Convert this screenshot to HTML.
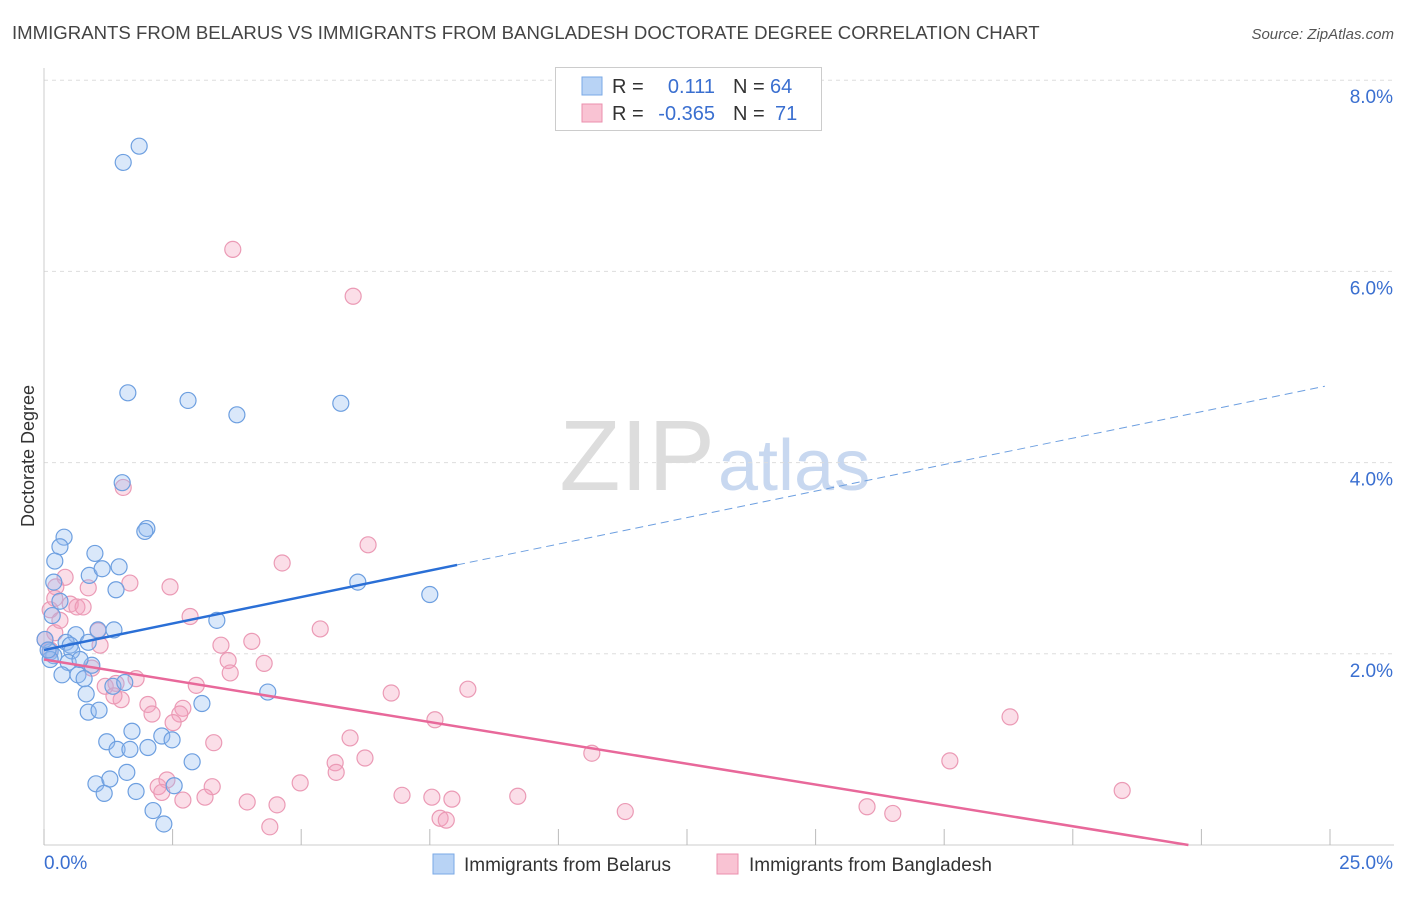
<!DOCTYPE html>
<html><head><meta charset="utf-8"><style>
body{margin:0;background:#fff;font-family:"Liberation Sans",sans-serif;}
svg text{font-family:"Liberation Sans",sans-serif;}
</style></head><body>
<svg id="c" width="1406" height="892">
<text x="12" y="39" font-size="18.6" fill="#444">IMMIGRANTS FROM BELARUS VS IMMIGRANTS FROM BANGLADESH DOCTORATE DEGREE CORRELATION CHART</text>
<text x="1394" y="39" font-size="15" fill="#555" font-style="italic" text-anchor="end">Source: ZipAtlas.com</text>
<text x="34" y="456" font-size="18" fill="#333" text-anchor="middle" transform="rotate(-90 34 456)">Doctorate Degree</text>
<text x="715" y="490" font-size="100" fill="#ddd" font-family="Liberation Serif" text-anchor="end">ZIP</text>
<text x="718" y="490" font-size="72" fill="#c8d8f0">atlas</text>
<g id="grid"></g><g id="pts"></g><g id="lines"></g>
<g>
<rect x="555.5" y="67.5" width="266" height="63" fill="#fff" stroke="#ccc"/>
<rect x="582" y="77" width="20" height="18" fill="#b8d3f5" stroke="#7aa8e6"/>
<rect x="582" y="104" width="20" height="18" fill="#f9c3d3" stroke="#eb8fae"/>
<text x="612" y="93" font-size="20" fill="#333">R =</text><text x="715" y="93" font-size="20" fill="#3a6fd0" text-anchor="end">0.111</text>
<text x="733" y="93" font-size="20" fill="#333">N =</text><text x="770" y="93" font-size="20" fill="#3a6fd0">64</text>
<text x="612" y="120" font-size="20" fill="#333">R =</text><text x="715" y="120" font-size="20" fill="#3a6fd0" text-anchor="end">-0.365</text>
<text x="733" y="120" font-size="20" fill="#333">N =</text><text x="775" y="120" font-size="20" fill="#3a6fd0">71</text>
</g>
<g>
<rect x="433" y="854" width="21" height="20" fill="#b8d3f5" stroke="#7aa8e6"/>
<text x="464" y="871" font-size="19" fill="#333">Immigrants from Belarus</text>
<rect x="717" y="854" width="21" height="20" fill="#f9c3d3" stroke="#eb8fae"/>
<text x="749" y="871" font-size="19" fill="#333">Immigrants from Bangladesh</text>
</g>
</svg>
<script>
const yTicks=[2,4,6,8];
const yTickLabels=["2.0%","4.0%","6.0%","8.0%"];
const xTickLabels=["0.0%","25.0%"];
const blueX=[1.85,1.54,1.63,2.8,3.75,5.77,1.52,2.0,1.96,0.39,0.31,0.99,0.21,0.19,0.88,1.13,1.46,1.4,6.1,7.5,0.16,3.36,0.62,1.36,1.05,0.43,0.51,0.86,0.12,0.54,0.19,0.47,0.93,0.35,0.66,0.78,1.34,1.57,0.82,4.35,3.07,0.86,1.07,1.22,1.71,2.29,2.49,1.42,1.67,2.02,2.88,1.61,1.01,1.28,1.17,1.79,2.53,2.12,2.33,0.12,0.02,0.31,0.08,0.7];
const blueY=[7.31,7.14,4.73,4.65,4.5,4.62,3.79,3.31,3.28,3.22,3.12,3.05,2.97,2.75,2.82,2.89,2.91,2.67,2.75,2.62,2.4,2.35,2.2,2.25,2.25,2.12,2.09,2.12,2.02,2.03,1.98,1.91,1.88,1.78,1.78,1.74,1.66,1.7,1.58,1.6,1.48,1.39,1.41,1.08,1.19,1.14,1.1,1.0,1.0,1.02,0.87,0.76,0.64,0.69,0.54,0.56,0.62,0.36,0.22,1.94,2.15,2.55,2.04,1.94];
const pinkX=[3.67,6.01,1.54,6.3,4.63,0.41,0.23,1.67,2.45,0.86,0.51,0.64,0.76,0.12,2.84,5.37,0.21,1.05,4.04,3.44,1.09,0.12,3.58,4.28,0.93,3.62,1.79,1.4,1.19,2.96,8.24,6.75,2.02,2.7,1.5,1.36,2.1,2.64,2.51,7.6,18.78,5.95,3.3,10.65,5.66,6.24,5.68,17.61,4.98,3.27,2.22,2.39,2.29,2.7,3.13,3.95,4.53,6.96,7.54,7.93,9.21,20.96,7.7,7.82,11.3,16.0,16.5,4.39,0.02,0.21,0.31];
const pinkY=[6.23,5.74,3.74,3.14,2.95,2.8,2.7,2.74,2.7,2.69,2.52,2.49,2.49,2.46,2.39,2.26,2.22,2.24,2.13,2.09,2.09,2.04,1.93,1.9,1.85,1.8,1.74,1.69,1.66,1.67,1.63,1.59,1.47,1.43,1.52,1.56,1.37,1.37,1.28,1.31,1.34,1.12,1.07,0.96,0.86,0.91,0.76,0.88,0.65,0.61,0.61,0.68,0.55,0.47,0.5,0.45,0.42,0.52,0.5,0.48,0.51,0.57,0.28,0.26,0.35,0.4,0.33,0.19,2.15,2.58,2.35];
const blueTrend=[2.04,4.81], pinkTrend=[1.94,-0.24];
const X=v=>44+v*(1330-44)/25, Y=v=>845-v*95.6;
const NS="http://www.w3.org/2000/svg";
function mk(t,a,p){const e=document.createElementNS(NS,t);for(const k in a)e.setAttribute(k,a[k]);p.appendChild(e);return e;}
const grid=document.getElementById('grid');
yTicks.forEach((t,i)=>{
 const l=mk('line',{x1:44,x2:1394,y1:Y(t),y2:Y(t),stroke:'#ddd','stroke-dasharray':'4 4'},grid);
 
 
 const tx=mk('text',{x:1393,y:Y(t)+23,'font-size':19,fill:'#3a6fd0','text-anchor':'end'},grid);tx.textContent=yTickLabels[i];
 
 
});
const ax=mk('line',{x1:44,x2:44,y1:68,y2:845,stroke:'#ccc'},grid);


const bx=mk('line',{x1:44,x2:1394,y1:845,y2:845,stroke:'#ccc'},grid);


for(let i=0;i<=10;i++){const t=mk('line',{x1:X(i*2.5),x2:X(i*2.5),y1:829,y2:845,stroke:'#bbb'},grid);
 
 }
[[0,44,'start'],[25,1393,'end']].forEach((d,i)=>{const t=mk('text',{x:d[1],y:869,'font-size':19,fill:'#3a6fd0','text-anchor':d[2]},grid);t.textContent=xTickLabels[i];
 
 });
const pts=document.getElementById('pts');
pinkX.forEach((x,i)=>{const c=mk('circle',{cx:X(x),cy:Y(pinkY[i]),r:8,fill:'rgba(244,160,188,0.35)',stroke:'#eb9ab5','stroke-width':1.2},pts);
 
 });
blueX.forEach((x,i)=>{const c=mk('circle',{cx:X(x),cy:Y(blueY[i]),r:8,fill:'rgba(150,190,240,0.35)',stroke:'#6d9fe0','stroke-width':1.2},pts);
 
 });
const lines=document.getElementById('lines');
const bf=x=>blueTrend[0]+(blueTrend[1]-blueTrend[0])*x/25;
let l1=mk('line',{x1:X(0),y1:Y(bf(0)),x2:X(8.03),y2:Y(bf(8.03)),stroke:'#2a6fd6','stroke-width':2.5},lines);


let l2=mk('line',{x1:X(8.03),y1:Y(bf(8.03)),x2:X(24.9),y2:Y(bf(24.9)),stroke:'#6d9fe0','stroke-width':1,'stroke-dasharray':'8 5'},lines);


const pf=x=>pinkTrend[0]+(pinkTrend[1]-pinkTrend[0])*x/25;
const pEnd=25*pinkTrend[0]/(pinkTrend[0]-pinkTrend[1]);
let l3=mk('line',{x1:X(0),y1:Y(pf(0)),x2:X(pEnd),y2:Y(pf(pEnd)),stroke:'#e8689a','stroke-width':2.5},lines);


</script>
</body></html>
